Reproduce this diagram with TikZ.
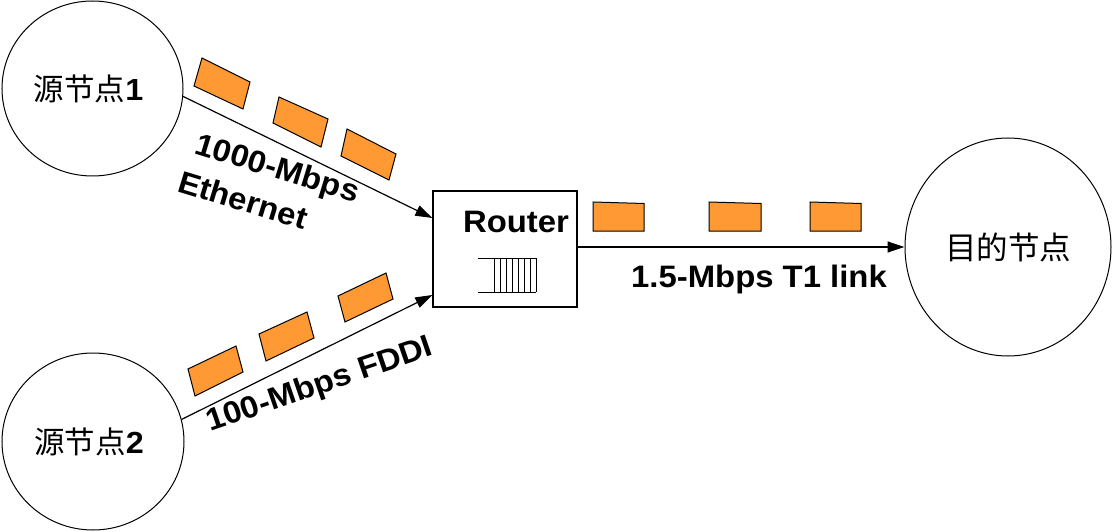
\documentclass[tikz,border=0pt]{standalone}
\usepackage{fontspec}
\setmainfont{Liberation Sans}
\newfontfamily\lblfont{Liberation Sans}[FakeStretch=1.06]
\newfontfamily\cjk{Noto Sans CJK SC}
\usetikzlibrary{shapes.geometric,arrows.meta}
\definecolor{pkt}{HTML}{FF9933}
\begin{document}
\begin{tikzpicture}[x=1pt,y=-1pt,
  host/.style={ellipse,draw,line width=1pt,inner sep=0pt},
  hosttext/.style={font=\fontsize{30.5pt}{33pt}\selectfont},
  lbl/.style={font=\lblfont\fontsize{31pt}{34pt}\selectfont\bfseries,inner sep=0pt},
  link/.style={line width=1.2pt,-{Triangle[length=17pt,width=11pt]}},
  packet/.style={draw,line width=1pt,fill=pkt,line join=miter}]
\useasboundingbox (0,0) rectangle (1112,532);

% hosts
\node[host,minimum width=181pt,minimum height=175pt,hosttext] (s1) at (92.5,88.5) {\cjk 源节点\textbf{\lblfont 1}\kern8pt};
\node[host,minimum width=182pt,minimum height=177pt,hosttext] (s2) at (93,441.5) {\cjk 源节点\textbf{\lblfont 2}\kern8pt};
\node[host,minimum width=206pt,minimum height=218pt,font=\fontsize{31.5pt}{34pt}\selectfont] (d) at (1008,247) {\cjk 目的节点};

% router
\node[draw,line width=1.3pt,minimum width=144pt,minimum height=116pt,inner sep=0pt] (r) at (505,249) {};
\node[lbl] (rt) at (516,222) {Router};
% queue icon
\draw[line width=1pt] (478,258) -- (536,258) (478,292) -- (536,292);
\foreach \qx in {494,500,...,536} \draw[line width=1pt] (\qx,258) -- (\qx,292);

% links
\draw[link] (s1.-5) -- ([yshift=31pt]r.west);
\draw[link] (s2.14.5) -- ([yshift=-46pt]r.west);
\draw[link] (r.east |- d.west) -- (d.west);

% link labels
\node[lbl,anchor=base west,rotate=-17] (l1a) at (193,153) {1000-Mbps};
\node[lbl,anchor=base west,rotate=-17] (l1b) at (176,191) {Ethernet};
\node[lbl,anchor=base west,rotate=19] (l2) at (210,432) {100-Mbps FDDI};
\node[lbl,anchor=base west] (l3) at (631,287) {1.5-Mbps T1 link};

% packets
\draw[packet] (202,58) -- (250,82) -- (243,109) -- (194,86) -- cycle;
\draw[packet] (279,97) -- (328,119) -- (321,147) -- (273,123) -- cycle;
\draw[packet] (347,129) -- (396,154) -- (389,180) -- (341,156) -- cycle;
\draw[packet] (188,369) -- (236,346) -- (243,372) -- (195,396) -- cycle;
\draw[packet] (259,334) -- (307,312) -- (314,338) -- (266,361) -- cycle;
\draw[packet] (338,296) -- (386,273) -- (393,299) -- (345,322) -- cycle;
\draw[packet] (593,202) -- (644,203.5) -- (644,231) -- (593,231) -- cycle;
\draw[packet] (709,202) -- (761,203.5) -- (761,231) -- (709,231) -- cycle;
\draw[packet] (810,202) -- (861,203.5) -- (861,231) -- (810,231) -- cycle;
\end{tikzpicture}
\end{document}
